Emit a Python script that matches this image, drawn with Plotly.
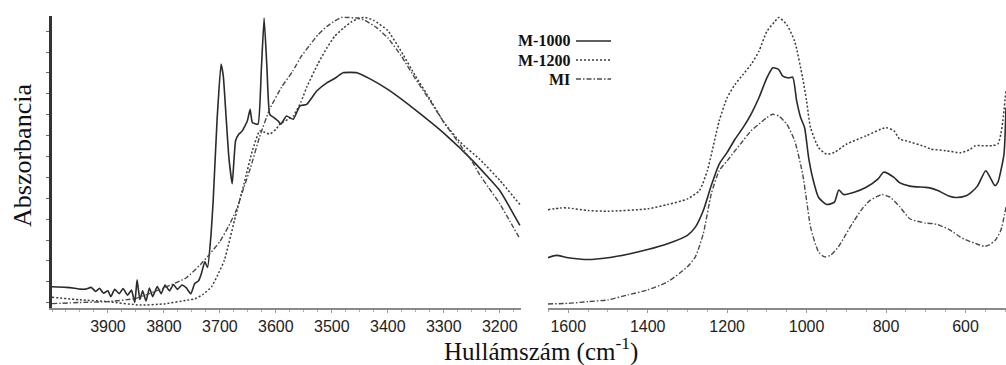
import plotly.graph_objects as go

# ---------------- data (absorbance, arbitrary units 0-100) ----------------
# Left panel: 4000-3160 cm-1
L_WN_M1000 = [4000, 3975, 3960, 3950, 3940, 3930, 3922, 3915, 3908, 3900,
              3895, 3888, 3880, 3873, 3865, 3858, 3852, 3848, 3843, 3838,
              3832, 3826, 3820, 3812, 3805, 3798, 3790, 3783, 3776, 3768,
              3760, 3752, 3745, 3738, 3733, 3727, 3722, 3716, 3712, 3705,
              3698, 3694, 3689, 3684, 3678, 3672, 3666, 3660, 3651, 3646,
              3642, 3632, 3626, 3621, 3616, 3611, 3603, 3596, 3591, 3581,
              3569, 3557, 3545, 3527, 3509, 3495, 3480, 3455, 3430, 3398,
              3348, 3298, 3248, 3200, 3164]
L_M1000 = [7.4, 7.2, 6.9, 6.6, 6.6, 7.2, 5.8, 6.9, 5.2, 6.0,
           4.0, 6.5, 5.0, 6.8, 4.5, 6.3, 2.0, 9.8, 3.0, 6.0,
           2.5, 7.0, 4.0, 7.5, 5.0, 8.0, 6.0, 8.2, 6.5, 8.0,
           7.0, 5.0, 8.5, 9.5, 12.0, 16.0, 14.0, 25, 37, 65,
           84, 80, 66, 52, 42.8, 57.6, 59.9, 61, 64.4, 68.4,
           63.9, 63.3, 82, 99.8, 83, 66.7, 65.5, 64.4, 63.3, 66.1,
           65, 69.6, 70.1, 74.7, 77.5, 79, 81, 81, 78.7, 75,
           67.8, 59.9, 50.7, 40.5, 28.5]

L_WN_M1200 = [4000, 3950, 3900, 3843, 3800, 3755, 3745, 3730, 3715, 3705,
              3692, 3674, 3657, 3642, 3629, 3620, 3611, 3600, 3593, 3569,
              3555, 3545, 3525, 3509, 3495, 3479, 3465, 3450, 3440, 3425,
              3400, 3375, 3351, 3325, 3300, 3270, 3236, 3200, 3164]
L_M1200 = [3.8, 2.9, 2.3, 1.1, 1.5, 2.9, 3.2, 4.8, 7.4, 11,
           16.5, 30.2, 42.8, 54.2, 61, 60.5, 59.9, 61.5, 63.3, 66.1,
           71, 76, 84, 89.5, 93.5, 96.4, 98.5, 99.8, 100, 99,
           95.5, 88, 80, 72, 64, 57, 51.3, 44, 35.7]

L_WN_MI = [4000, 3950, 3900, 3850, 3800, 3760, 3735, 3721, 3700, 3685,
           3671, 3657, 3645, 3629, 3611, 3590, 3570, 3555, 3539, 3525,
           3509, 3495, 3483, 3470, 3455, 3441, 3420, 3400, 3375, 3351,
           3325, 3300, 3270, 3248, 3236, 3220, 3200, 3182, 3164]
L_MI = [1.6, 2.0, 2.3, 3.4, 7.0, 10.5, 15.0, 18.0, 23.0, 28.0,
        33.6, 41.6, 48.5, 59, 68.5, 76, 81.5, 86.5, 90.6, 94.0,
        96.9, 98.8, 100, 100, 99.8, 99, 96.5, 93, 86.5, 79,
        71.5, 64, 56, 50, 46, 41.5, 36, 30, 23.9]

# Right panel: 1650-500 cm-1
R_WN_M1000 = [1651, 1630, 1600, 1550, 1500, 1450, 1400, 1350, 1300, 1280,
              1260, 1240, 1220, 1200, 1180, 1160, 1140, 1120, 1100, 1085,
              1070, 1060, 1045, 1035, 1025, 1015, 1005, 995, 985, 970,
              950, 930, 919, 907, 880, 850, 820, 806, 780, 766,
              740, 702, 690, 670, 640, 625, 600, 587, 570, 549,
              538, 526, 518, 511, 503, 498]
R_M1000 = [17.4, 18.2, 17.4, 16.8, 17.4, 18.6, 20.2, 22.2, 25.1, 27.9,
           33.6, 42.2, 49.6, 53.6, 58.2, 62.1, 66.7, 72.4, 79.2, 82.7,
           82.1, 79.8, 79.2, 79.5, 71.3, 65.6, 62.1, 51.9, 45, 38.2,
           35.7, 36.5, 40.7, 39.1, 39.9, 41.6, 44.5, 46.8, 45, 43.2,
           42, 41.6, 41.4, 40.5, 38.5, 38.1, 38.6, 39.7, 42, 47.3,
           45, 42.2, 43.5, 47.3, 53, 69]

R_WN_M1200 = [1651, 1620, 1600, 1550, 1500, 1400, 1350, 1300, 1270, 1250,
              1220, 1200, 1180, 1160, 1140, 1120, 1100, 1080, 1070, 1050,
              1030, 1010, 1000, 990, 970, 950, 930, 900, 850, 800,
              780, 766, 750, 700, 689, 650, 613, 590, 575, 555,
              531, 518, 511, 506, 498]
R_M1200 = [33.9, 34.5, 34.5, 33.6, 33.4, 34.2, 35.7, 37.6, 40.5, 47.3,
           64.4, 72.4, 77, 80.4, 83.8, 88.4, 95.2, 98.6, 100, 97.5,
           91.8, 79.2, 71.3, 62.1, 55.3, 53, 53.6, 56.4, 59.3, 62.1,
           61, 58.2, 57.6, 55.5, 54.8, 54.2, 53.5, 54.5, 55.9, 55.9,
           55.9, 56.6, 60, 64.4, 75]

R_WN_MI = [1651, 1600, 1550, 1500, 1450, 1400, 1350, 1300, 1280, 1260,
           1240, 1220, 1200, 1180, 1160, 1140, 1120, 1100, 1085, 1070,
           1050, 1030, 1010, 1000, 990, 970, 955, 940, 920, 900,
           880, 860, 840, 810, 790, 766, 740, 700, 682, 670,
           640, 613, 600, 575, 552, 540, 525, 511, 498]
R_MI = [1.5, 1.7, 2.3, 2.9, 4.6, 6.3, 9.1, 14.3, 17.7, 25.7,
        39.3, 47.3, 50.7, 54.2, 57.6, 61, 63.3, 65.6, 66.7, 66.1,
        63.3, 57.6, 46.2, 37.1, 27.9, 19.4, 17.7, 18.2, 21.1, 25.7,
        30.2, 34.2, 37.1, 39.1, 38.2, 35, 30.8, 29.3, 29.1, 28.8,
        27, 24.5, 23.6, 22.3, 21.3, 21.8, 23.4, 26.8, 34.8]

LEFT_TICKS = [3900, 3800, 3700, 3600, 3500, 3400, 3300, 3200]
RIGHT_TICKS = [1600, 1400, 1200, 1000, 800, 600]
SERIES_NAMES = ["M-1000", "M-1200", "MI"]

# ---------------- styles ----------------
STYLES = {
    "M-1000": dict(color="#2a2a2a", width=1.6, dash="solid"),
    "M-1200": dict(color="#3a3a3a", width=1.5, dash="2px,2px"),
    "MI": dict(color="#4a4a4a", width=1.4, dash="5px,2px,1.5px,2px"),
}

W, H = 1006, 365
fig = go.Figure()

left = {"M-1000": (L_WN_M1000, L_M1000), "M-1200": (L_WN_M1200, L_M1200), "MI": (L_WN_MI, L_MI)}
right = {"M-1000": (R_WN_M1000, R_M1000), "M-1200": (R_WN_M1200, R_M1200), "MI": (R_WN_MI, R_MI)}

for name in SERIES_NAMES:
    x, y = left[name]
    fig.add_trace(go.Scatter(x=x, y=y, mode="lines", name=name, line=STYLES[name],
                             xaxis="x", yaxis="y", showlegend=False, line_shape="spline",
                             line_smoothing=0.4))
for name in SERIES_NAMES:
    x, y = right[name]
    fig.add_trace(go.Scatter(x=x, y=y, mode="lines", name=name, line=STYLES[name],
                             xaxis="x2", yaxis="y2", showlegend=False, line_shape="spline",
                             line_smoothing=0.6))

y_dom = [(H - 308.3) / H, (H - 16) / H]
tickfont = dict(family="Liberation Sans, Arial, sans-serif", size=16, color="#222")

fig.update_layout(
    width=W, height=H,
    margin=dict(l=0, r=0, t=0, b=0),
    paper_bgcolor="white", plot_bgcolor="white",
    showlegend=False,
    xaxis=dict(domain=[52 / W, 521 / W], range=[4000, 3162], anchor="y",
               tickvals=LEFT_TICKS, tickfont=tickfont,
               showline=True, linecolor="#8a8a8a", linewidth=1.5,
               ticks="outside", ticklen=3, tickcolor="#999",
               minor=dict(dtick=25, ticks="outside", ticklen=2, tickcolor="#aaa"),
               showgrid=False, zeroline=False),
    yaxis=dict(domain=y_dom, range=[0, 100.5], anchor="x",
               showline=True, linecolor="#333", linewidth=2.5,
               ticks="outside", ticklen=3, tickcolor="#666",
               tick0=1.94, dtick=7.18, showticklabels=False,
               showgrid=False, zeroline=False),
    xaxis2=dict(domain=[548 / W, 1.0], range=[1651, 498], anchor="y2",
                tickvals=RIGHT_TICKS, tickfont=tickfont,
                showline=True, linecolor="#8a8a8a", linewidth=1.5,
                ticks="outside", ticklen=3, tickcolor="#999",
                minor=dict(dtick=50, ticks="outside", ticklen=2, tickcolor="#aaa"),
                showgrid=False, zeroline=False),
    yaxis2=dict(domain=y_dom, range=[0, 100.5], anchor="x2", visible=False,
                showgrid=False, zeroline=False),
)

serif = "Liberation Serif, Times New Roman, serif"
fig.add_annotation(text="Abszorbancia", xref="paper", yref="paper",
                   x=22 / W, y=(H - 156) / H, textangle=-90, showarrow=False,
                   font=dict(family=serif, size=26, color="#111"),
                   xanchor="center", yanchor="middle")
fig.add_annotation(text="Hullámszám (cm<sup>-1</sup>)", xref="paper", yref="paper",
                   x=541 / W, y=(H - 349) / H, showarrow=False,
                   font=dict(family=serif, size=25, color="#111"),
                   xanchor="center", yanchor="middle")

# legend (text right-aligned, line sample to its right)
leg_y = [41, 60, 79]
for name, yy in zip(SERIES_NAMES, leg_y):
    fig.add_annotation(text="<b>" + name + "</b>", xref="paper", yref="paper",
                       x=572 / W, y=(H - yy) / H, showarrow=False,
                       xanchor="right", yanchor="middle",
                       font=dict(family=serif, size=16, color="#111"))
    st = STYLES[name]
    fig.add_shape(type="line", xref="paper", yref="paper",
                  x0=576 / W, x1=611 / W, y0=(H - yy) / H, y1=(H - yy) / H,
                  line=dict(color=st["color"], width=st["width"], dash=st["dash"]))

fig.write_html("out.html")
